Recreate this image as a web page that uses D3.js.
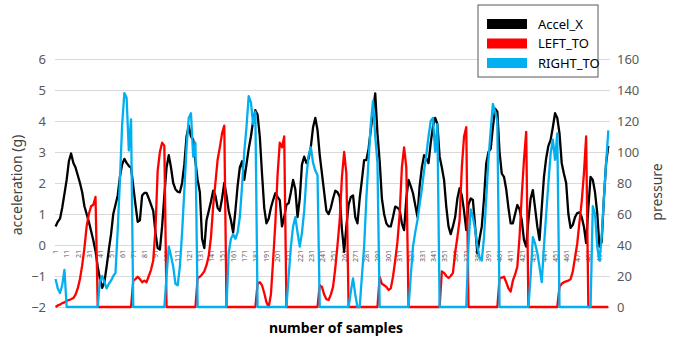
<!DOCTYPE html>
<html>
<head>
<meta charset="utf-8">
<script src="https://cdn.jsdelivr.net/npm/d3@7"></script>
<style>
  body { margin: 0; background: #fff; }
  text { font-family: "Noto Sans", "Open Sans", sans-serif; }
</style>
</head>
<body>
<div id="chart"></div>
<script>
const samples = d3.range(1, 500, 2);
const xTickLabels = d3.range(1, 500, 10);
const accelTicks = [-2, -1, 0, 1, 2, 3, 4, 5, 6];
const pressureTicks = [0, 20, 40, 60, 80, 100, 120, 140, 160];
const seriesNames = ["Accel_X", "LEFT_TO", "RIGHT_TO"];

// Accel_X (g), left axis
const accelX = [
  0.6, 0.75, 0.85, 1.2, 1.65, 2.1, 2.7, 2.95, 2.65, 2.5,
  2.25, 2.0, 1.7, 1.25, 1.0, 0.75, 0.45, 0.15, -0.2, -0.7,
  -1.1, -1.38, -1.2, -0.7, -0.15, 0.35, 1.0, 1.3, 1.6, 2.2,
  2.6, 2.78, 2.65, 2.55, 2.5, 1.9, 1.3, 0.75, 0.8, 1.6,
  1.68, 1.68, 1.5, 1.3, 1.1, 0.4, -0.1, -0.15, 0.6, 1.6,
  2.5, 2.9, 2.5, 2.0, 1.8, 1.72, 1.7, 2.0, 2.6, 3.5,
  3.85, 3.5, 3.4, 2.7, 2.1, 1.7, 0.2, -0.1, 0.8, 1.1,
  1.4, 1.75, 1.6, 1.2, 1.1, 1.5, 2.0, 1.6, 1.1, 0.8,
  0.4, 1.1, 1.9, 2.5, 2.7, 2.1, 2.6, 3.1, 3.5, 4.0,
  4.35, 4.2, 3.5, 2.3, 1.2, 0.7, 0.85, 1.2, 1.45, 1.67,
  1.55, 1.45, 0.6, 0.9, 1.3, 1.35, 1.7, 2.1, 1.8, 0.9,
  1.5, 2.6, 2.85, 2.64, 2.8, 3.17, 3.8, 4.1, 3.71, 2.9,
  2.3, 1.7, 1.1, 1.0, 1.2, 1.5, 1.75, 1.7, 1.56, 0.5,
  -0.22, 0.6, 1.3, 1.55, 1.6, 0.9, 0.7, 1.5, 2.1, 2.74,
  2.74, 3.1, 3.71, 4.3, 4.89, 3.6, 2.7, 1.5, 1.0, 0.7,
  0.6, 0.6, 0.9, 1.24, 1.2, 1.13, 0.7, 0.48, 1.5, 2.1,
  1.9, 1.67, 1.3, 0.91, 1.9, 2.5, 2.9, 2.8, 2.64, 3.3,
  3.82, 4.1, 3.9, 2.85, 2.5, 2.1, 1.24, 0.6, 0.35, 0.6,
  0.9, 1.5, 1.83, 1.6, 1.1, 0.48, 1.3, 1.5, 1.45, 0.6,
  -0.27, 0.2, 0.6, 1.5, 2.64, 3.0, 3.1, 3.8, 4.4, 4.3,
  3.0, 2.3, 2.2, 1.8, 1.2, 0.7, 0.7, 1.0, 1.29, 1.15,
  0.8, 0.16, -0.05, 0.8, 1.5, 1.77, 1.2, 0.6, 0.16, 1.2,
  2.2, 2.8, 3.2, 3.39, 3.8, 4.25, 4.1, 3.6, 2.64, 2.3,
  2.0, 1.0, 0.55, 0.65, 0.9, 1.03, 1.05, 0.9, 0.59, 0.06,
  1.2, 2.2, 2.1, 1.7, 1.03, -0.05, 0.1, 1.5, 2.64, 3.2
];

// LEFT_TO (pressure), right axis
const leftTO = [
  0, 1, 1.5, 2.5, 3, 4, 4.5, 5, 5.8, 8,
  12, 18, 27, 38, 52, 60, 65, 66, 71, 0,
  0, 0, 0, 0, 0, 0, 0, 0, 0, 0,
  0, 0, 0, 0, 0, 17, 18, 19.5, 18, 16,
  17, 16, 20, 24, 30, 50, 88, 100, 106, 104,
  0, 0, 0, 0, 0, 0, 0, 0, 0, 0,
  0, 0, 0, 0, 18.7, 19.5, 21, 23, 27, 33,
  45, 65, 80, 95, 103, 112, 117, 0, 0, 0,
  0, 0, 0, 0, 0, 0, 0, 0, 0, 0,
  0, 15, 16, 14, 9, 3, 0, 8, 30, 54,
  85, 106, 103, 110, 0, 0, 0, 0, 0, 0,
  0, 0, 0, 0, 0, 0, 0, 0, 0, 14,
  13, 8, 5, 4.5, 8, 13, 25, 40, 56, 84,
  100, 86, 0, 0, 0, 0, 0, 0, 0, 0,
  0, 0, 0, 0, 0, 0, 19.5, 15, 14, 13,
  11, 12, 19.5, 30, 42, 60, 90, 103, 90, 0,
  0, 0, 0, 0, 0, 0, 0, 0, 0, 0,
  0, 0, 0, 0, 23, 22, 20, 18.7, 20, 22,
  35, 45, 56, 90, 110, 116, 0, 0, 0, 0,
  0, 0, 0, 0, 0, 0, 0, 0, 0, 0,
  18.5, 19, 19.5, 16, 12, 10, 17, 21, 26, 45,
  72, 95, 113, 0, 0, 0, 0, 0, 0, 0,
  0, 0, 0, 0, 0, 0, 0, 13, 15, 16,
  16.5, 17, 18, 23, 32, 41, 55, 68, 86, 110,
  0, 0, 0, 0, 0, 0, 0, 0, 0, 0
];

// RIGHT_TO (pressure), right axis
const rightTO = [
  18, 12, 9, 14, 24, 0, 0, 0, 0, 0,
  0, 0, 0, 0, 0, 0, 0, 0, 0, 0,
  17, 20, 16, 12, 15, 17, 20, 22, 50, 82,
  118, 138, 135, 101, 121, 0, 0, 0, 0, 0,
  0, 0, 0, 0, 0, 0, 0, 0, 0, 0,
  20, 39, 33, 26, 15, 14, 26, 48, 75, 103,
  122, 125, 97, 106, 0, 0, 0, 0, 0, 0,
  0, 0, 0, 0, 0, 0, 0, 0, 35, 44,
  47, 44, 48, 58, 78, 100, 116, 136, 132, 118,
  126, 0, 0, 0, 0, 0, 0, 0, 0, 0,
  0, 0, 0, 0, 0, 20, 39, 52, 58, 48,
  39, 48, 62, 84, 98, 103, 93, 88, 85, 0,
  0, 0, 0, 0, 0, 0, 0, 0, 0, 0,
  0, 0, 0, 10, 18.5, 8, 0, 0, 20, 39,
  70, 95, 118, 133, 110, 93, 0, 0, 0, 0,
  0, 0, 0, 0, 0, 0, 0, 0, 0, 0,
  20, 39, 48, 56, 66, 76, 88, 98, 110, 120,
  122, 100, 118, 0, 0, 0, 0, 0, 0, 0,
  0, 0, 0, 0, 0, 0, 40, 63, 58, 50,
  39, 32, 30, 45, 70, 95, 114, 131, 126, 120,
  0, 0, 0, 0, 0, 0, 0, 0, 0, 0,
  0, 0, 0, 0, 20, 45, 41, 35, 26, 16,
  39, 60, 80, 99, 108, 95, 112, 0, 0, 0,
  0, 0, 0, 0, 0, 0, 0, 0, 0, 0,
  0, 0, 65, 60, 39, 30, 45, 70, 93, 114
];

const colors = ["#000000", "#ff0000", "#00b0f0"];

// plot area
const W = 677, H = 343;
const plot = {left: 55, right: 610, top: 59, bottom: 307};

const svg = d3.select("#chart").append("svg")
  .attr("width", W)
  .attr("height", H);

svg.append("rect").attr("width", W).attr("height", H).attr("fill", "#fff");

// scales
const x = d3.scaleLinear().domain([0.5, 500.5]).range([plot.left, plot.right]);
const yAcc = d3.scaleLinear().domain([-2, 6]).range([plot.bottom, plot.top]);
const yPres = d3.scaleLinear().domain([0, 160]).range([plot.bottom, plot.top]);

// gridlines
svg.append("g")
  .attr("transform", "translate(" + plot.left + ",0)")
  .call(d3.axisLeft(yAcc).tickValues(accelTicks)
    .tickSize(-(plot.right - plot.left)).tickFormat(""))
  .call(g => g.select(".domain").remove())
  .selectAll("line").attr("stroke", "#d9d9d9");

// left axis labels
svg.append("g")
  .attr("transform", "translate(" + plot.left + ",0)")
  .call(d3.axisLeft(yAcc).tickValues(accelTicks).tickSize(0).tickPadding(9))
  .call(g => g.select(".domain").remove())
  .selectAll("text")
  .attr("fill", "#595959")
  .style("font-size", "13px");

// right axis labels
svg.append("g")
  .attr("transform", "translate(" + plot.right + ",0)")
  .call(d3.axisRight(yPres).tickValues(pressureTicks).tickSize(0).tickPadding(7))
  .call(g => g.select(".domain").remove())
  .selectAll("text")
  .attr("fill", "#595959")
  .style("font-size", "13px");

// category labels sit on the zero line, rotated
svg.append("g")
  .attr("transform", "translate(0," + yAcc(0) + ")")
  .call(d3.axisBottom(x).tickValues(xTickLabels).tickSize(0).tickFormat(d3.format("d")))
  .call(g => g.select(".domain").remove())
  .selectAll("text")
  .attr("fill", "#595959")
  .style("font-size", "7px")
  .attr("text-anchor", "end")
  .attr("transform", "rotate(-90)")
  .attr("x", -5)
  .attr("y", 0)
  .attr("dy", "0.32em");

// lines
const accLine = d3.line()
  .x((d, i) => x(samples[i]))
  .y(d => yAcc(d));
const presLine = d3.line()
  .x((d, i) => x(samples[i]))
  .y(d => yPres(d));

svg.append("path").datum(accelX)
  .attr("d", accLine).attr("fill", "none")
  .attr("stroke", colors[0]).attr("stroke-width", 2.3).attr("stroke-linejoin", "round");
svg.append("path").datum(leftTO)
  .attr("d", presLine).attr("fill", "none")
  .attr("stroke", colors[1]).attr("stroke-width", 2.3).attr("stroke-linejoin", "round");
svg.append("path").datum(rightTO)
  .attr("d", presLine).attr("fill", "none")
  .attr("stroke", colors[2]).attr("stroke-width", 2.3).attr("stroke-linejoin", "round");

// axis titles
svg.append("text")
  .attr("transform", "translate(22," + 185 + ") rotate(-90)")
  .attr("text-anchor", "middle")
  .attr("fill", "#404040")
  .style("font-size", "14px")
  .text("acceleration (g)");

svg.append("text")
  .attr("transform", "translate(662," + 192 + ") rotate(-90)")
  .attr("text-anchor", "middle")
  .attr("fill", "#404040")
  .style("font-size", "14px")
  .text("pressure");

svg.append("text")
  .attr("x", 336)
  .attr("y", 333)
  .attr("text-anchor", "middle")
  .attr("fill", "#000")
  .style("font-size", "14px")
  .style("font-weight", "bold")
  .text("number of samples");

// legend
const legend = svg.append("g").attr("transform", "translate(478,5)");
legend.append("rect")
  .attr("width", 120).attr("height", 72)
  .attr("fill", "#fff").attr("stroke", "#595959").attr("stroke-width", 1);
seriesNames.forEach(function(name, i) {
  legend.append("rect")
    .attr("x", 9).attr("y", 14 + i * 19.5)
    .attr("width", 40).attr("height", 10)
    .attr("fill", colors[i]);
  legend.append("text")
    .attr("x", 60).attr("y", 23.5 + i * 19.5)
    .attr("fill", "#000")
    .style("font-size", "13px")
    .text(name);
});
</script>
</body>
</html>
